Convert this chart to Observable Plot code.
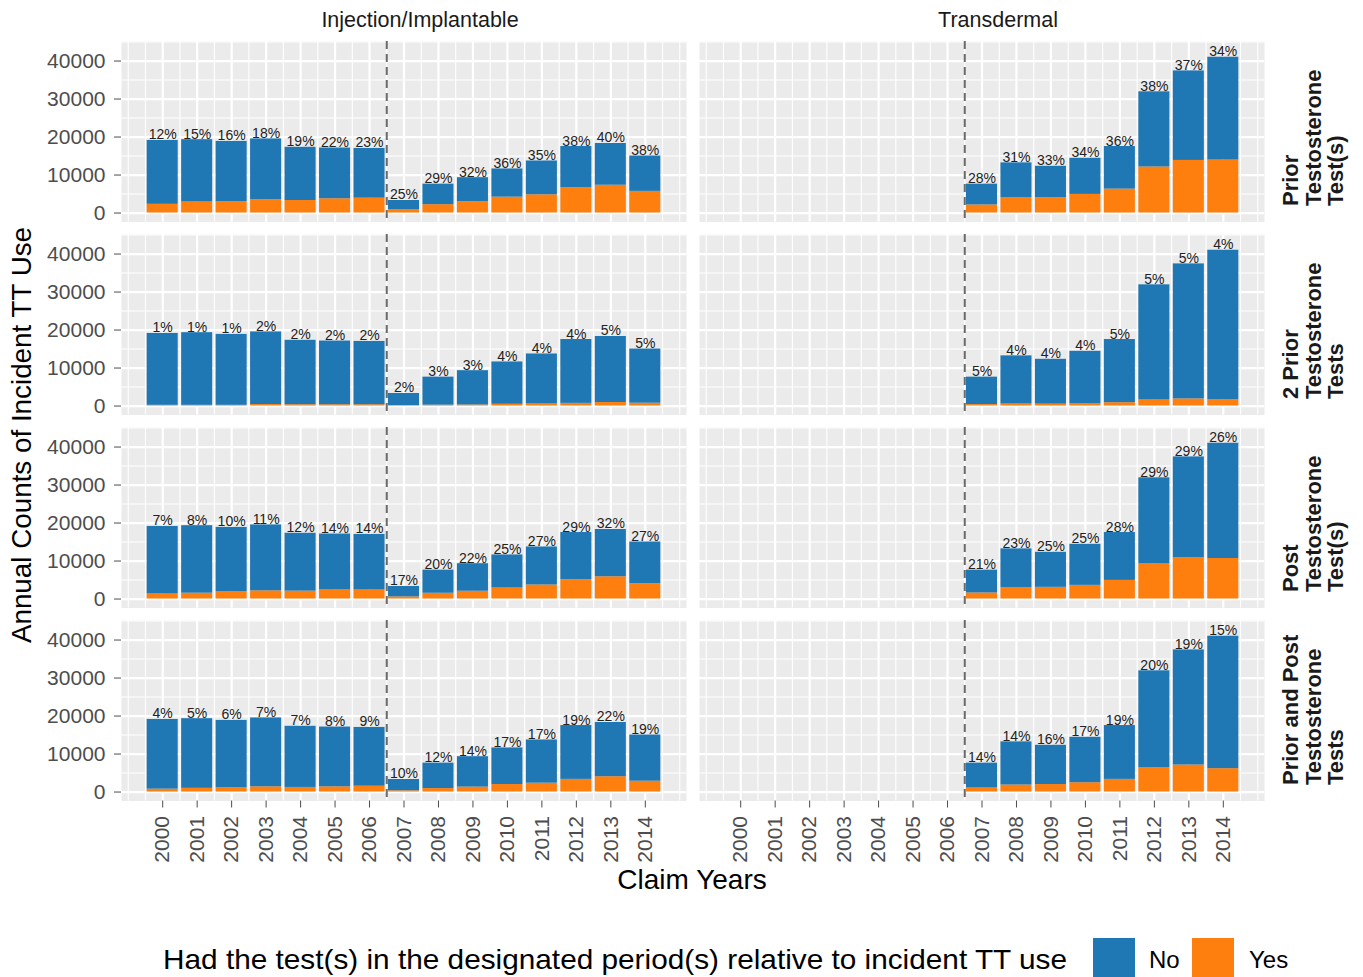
<!DOCTYPE html>
<html>
<head>
<meta charset="utf-8">
<script src="https://cdn.jsdelivr.net/npm/d3@7"></script>
<script src="https://cdn.jsdelivr.net/npm/@observablehq/plot@0.6"></script>
<style>
  body { margin: 0; background: #fff; }
  #wrap { position: relative; width: 1363px; height: 977px; overflow: hidden; font-family: "Liberation Sans", Arial, sans-serif; }
  #chart svg { display: block; }
  .abs { position: absolute; white-space: nowrap; }
  #ytitle { left: 22px; top: 435px; font-size: 27.8px; color: #000; transform: translate(-50%, -50%) rotate(-90deg); }
  #xtitle { left: 692px; top: 880px; font-size: 28px; color: #000; transform: translate(-50%, -50%); }
  #legtext { left: 163px; top: 938px; height: 44px; line-height: 44px; font-size: 28px; color: #000; font-family: "Liberation Sans Narrow", "Liberation Sans", Arial, sans-serif; transform-origin: 0 50%; }
  .sw { top: 938px; width: 42px; height: 44px; }
  .lk { top: 938px; line-height: 44px; font-size: 24px; color: #000; font-family: "Liberation Sans Narrow", "Liberation Sans", Arial, sans-serif; }
</style>
</head>
<body>
<div id="wrap">
  <div id="chart"></div>
  <div id="ytitle" class="abs">Annual Counts of Incident TT Use</div>
  <div id="xtitle" class="abs">Claim Years</div>
  <div id="legtext" class="abs">Had the test(s) in the designated period(s) relative to incident TT use</div>
  <div class="abs sw" style="left:1093px;background:#1F77B4"></div>
  <div class="abs lk" style="left:1149px">No</div>
  <div class="abs sw" style="left:1192px;background:#FF7F0E"></div>
  <div class="abs lk" style="left:1249px">Yes</div>
</div>
<script>
// ---------------- data ----------------
const types = ["Injection/Implantable", "Transdermal"];
const tests = ["Prior", "2 Prior", "Post", "Prior and Post"];
const testLabels = [
  "Prior\nTestosterone\nTest(s)",
  "2 Prior\nTestosterone\nTests",
  "Post\nTestosterone\nTest(s)",
  "Prior and Post\nTestosterone\nTests"
];
const keys = ["No", "Yes"];
const keyColors = ["#1F77B4", "#FF7F0E"];

const injYears = [2000, 2001, 2002, 2003, 2004, 2005, 2006, 2007, 2008, 2009, 2010, 2011, 2012, 2013, 2014];
const transYears = [2007, 2008, 2009, 2010, 2011, 2012, 2013, 2014];
const xTickYears = [2000, 2001, 2002, 2003, 2004, 2005, 2006, 2007, 2008, 2009, 2010, 2011, 2012, 2013, 2014];
const yTicks = [0, 10000, 20000, 30000, 40000];
const cutoffYear = [2006.5];

// total incident TT users per year
const injTotal = [19100, 19300, 18850, 19500, 17300, 17100, 17000, 3300, 7600, 9300, 11600, 13700, 17500, 18300, 15000];
const transTotal = [7600, 13200, 12300, 14400, 17500, 31900, 37400, 41000];

// Prior testosterone test(s)
const injYesPrior = [2290, 2900, 3020, 3510, 3290, 3760, 3910, 830, 2200, 2980, 4180, 4800, 6650, 7320, 5700];
const injPctPrior = [12, 15, 16, 18, 19, 22, 23, 25, 29, 32, 36, 35, 38, 40, 38];
const transYesPrior = [2130, 4090, 4060, 4900, 6300, 12120, 13840, 13940];
const transPctPrior = [28, 31, 33, 34, 36, 38, 37, 34];

// 2 prior testosterone tests
const injYes2Prior = [190, 190, 190, 390, 350, 340, 340, 70, 230, 280, 460, 550, 700, 920, 750];
const injPct2Prior = [1, 1, 1, 2, 2, 2, 2, 2, 3, 3, 4, 4, 4, 5, 5];
const transYes2Prior = [380, 530, 490, 580, 880, 1600, 1870, 1640];
const transPct2Prior = [5, 4, 4, 4, 5, 5, 5, 4];

// Post testosterone test(s)
const injYesPost = [1340, 1540, 1890, 2150, 2080, 2390, 2380, 560, 1520, 2050, 2900, 3700, 5080, 5860, 4050];
const injPctPost = [7, 8, 10, 11, 12, 14, 14, 17, 20, 22, 25, 27, 29, 32, 27];
const transYesPost = [1600, 3040, 3080, 3600, 4900, 9250, 10850, 10660];
const transPctPost = [21, 23, 25, 25, 28, 29, 29, 26];

// Prior and post testosterone tests
const injYesBoth = [760, 970, 1130, 1370, 1210, 1370, 1530, 330, 910, 1300, 1970, 2330, 3330, 4030, 2850];
const injPctBoth = [4, 5, 6, 7, 7, 8, 9, 10, 12, 14, 17, 17, 19, 22, 19];
const transYesBoth = [1060, 1850, 1970, 2450, 3330, 6380, 7110, 6150];
const transPctBoth = [14, 14, 16, 17, 19, 20, 19, 15];

// ---------------- tables built from the arrays ----------------
const seriesList = [
  [tests[0], types[0], injYears, injTotal, injYesPrior, injPctPrior],
  [tests[0], types[1], transYears, transTotal, transYesPrior, transPctPrior],
  [tests[1], types[0], injYears, injTotal, injYes2Prior, injPct2Prior],
  [tests[1], types[1], transYears, transTotal, transYes2Prior, transPct2Prior],
  [tests[2], types[0], injYears, injTotal, injYesPost, injPctPost],
  [tests[2], types[1], transYears, transTotal, transYesPost, transPctPost],
  [tests[3], types[0], injYears, injTotal, injYesBoth, injPctBoth],
  [tests[3], types[1], transYears, transTotal, transYesBoth, transPctBoth]
];
const bars = [];
const labels = [];
for (const [test, type, yrs, tot, yes, pct] of seriesList) {
  yrs.forEach((year, i) => {
    bars.push({test, type, year, key: "Yes", lo: 0, hi: yes[i]});
    bars.push({test, type, year, key: "No", lo: yes[i], hi: tot[i]});
    labels.push({test, type, year, total: tot[i], pct: pct[i]});
  });
}
const half = 0.45;
const xMajor = xTickYears;
const xMinor = d3.range(1999, 2015.001, 0.5);
const yMinor = d3.range(5000, 45001, 10000);

const chart = Plot.plot({
  width: 1363,
  height: 900,
  marginLeft: 121,
  marginRight: 99,
  marginTop: 41,
  marginBottom: 99.5,
  style: {fontFamily: "'Liberation Sans', Arial, sans-serif", background: "white", overflow: "visible"},
  x: {domain: [1998.805, 2015.195]},
  y: {domain: [-2360, 45140]},
  fx: {domain: types, paddingInner: 13 / 578, paddingOuter: 0, axis: null, round: false},
  fy: {domain: tests, paddingInner: 12.5 / 193, paddingOuter: 0, axis: null, round: false},
  color: {domain: keys, range: keyColors},
  marks: [
    Plot.frame({fill: "#EBEBEB", stroke: "none"}),
    Plot.gridY(yMinor, {stroke: "white", strokeOpacity: 1, strokeWidth: 1.1}),
    Plot.gridX(xMinor, {stroke: "white", strokeOpacity: 1, strokeWidth: 1.1}),
    Plot.gridY(yTicks, {stroke: "white", strokeOpacity: 1, strokeWidth: 2.2}),
    Plot.gridX(xMajor, {stroke: "white", strokeOpacity: 1, strokeWidth: 2.2}),
    Plot.ruleX(cutoffYear, {stroke: "#6a6a6a", strokeWidth: 2, strokeDasharray: "8,5"}),
    Plot.rectY(bars, {
      x1: d => d.year - half, x2: d => d.year + half,
      y1: "lo", y2: "hi", fill: "key", fx: "type", fy: "test"
    }),
    Plot.text(labels, {
      x: "year", y: "total", text: d => d.pct + "%", fx: "type", fy: "test",
      lineAnchor: "bottom", dy: -1, fontSize: 14, fill: "#222"
    }),
    Plot.axisY({ticks: yTicks, tickFormat: d => String(d), fontSize: 21, tickSize: 7, tickPadding: 9, color: "#4d4d4d", label: null}),
    Plot.axisX({ticks: xTickYears, tickFormat: d => String(d), tickRotate: -90, fontSize: 21, tickSize: 7, tickPadding: 8, color: "#4d4d4d", label: null}),
    Plot.text(types, {
      fx: d => d, fy: () => tests[0], text: d => d,
      frameAnchor: "top", lineAnchor: "middle", dx: 16, dy: -21, fontSize: 21.5, fill: "#1a1a1a"
    }),
    Plot.text(tests, {
      fy: d => d, fx: () => types[1], text: (d, i) => testLabels[i],
      frameAnchor: "bottom-right", rotate: -90, textAnchor: "start", lineAnchor: "middle",
      dx: 49, dy: -16, fontSize: 22, fontWeight: "bold", fill: "#1a1a1a", lineHeight: 1.02
    })
  ]
});
document.getElementById("chart").appendChild(chart);

// fit legend title to its width in the reference
const lt = document.getElementById("legtext");
const w = lt.getBoundingClientRect().width;
lt.style.transform = `scaleX(${904 / w})`;
</script>
</body>
</html>
